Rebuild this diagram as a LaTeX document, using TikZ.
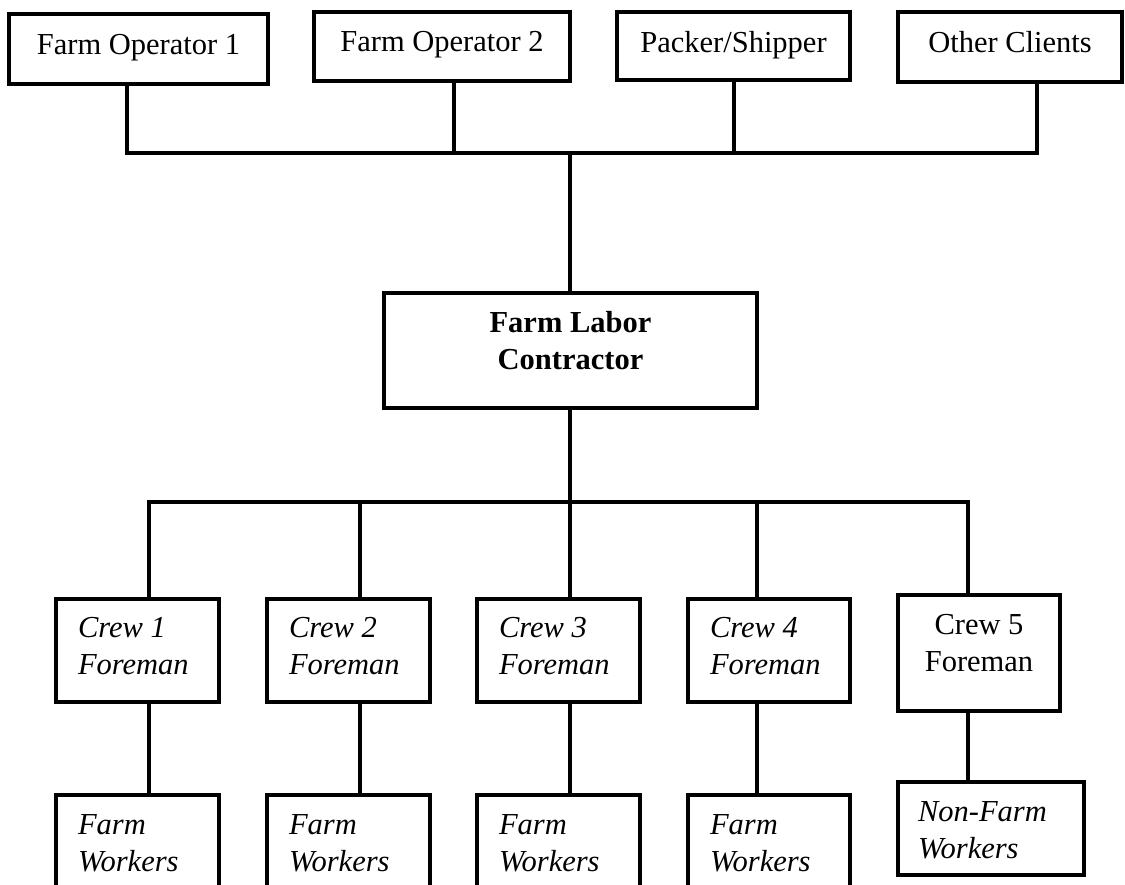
\documentclass[tikz,border=0pt]{standalone}
\usepackage{fontspec}
\setmainfont{Liberation Serif}
\newcommand{\bxt}[5]{\parbox[c][#2pt][t]{#1pt}{#3\vspace*{#4pt}\strut #5}}
\newcommand{\lft}{\raggedright\leftskip=22pt\relax\itshape}
\tikzset{
  box/.style={draw, line width=4.5pt, rectangle, inner sep=0pt, outer sep=0pt, anchor=north west},
  conn/.style={line width=3.8pt},
  every node/.style={font=\fontsize{30.5}{37}\selectfont}
}
\begin{document}
\begin{tikzpicture}[x=1pt,y=-1pt]
\useasboundingbox (0,0) rectangle (1125,885);
\clip (0,0) rectangle (1125,885);
% top row
\node[box] (fo1) at (9,14)   {\bxt{259}{70}{\centering}{15}{Farm Operator 1}};
\node[box] (fo2) at (314,12) {\bxt{256}{69}{\centering}{14}{Farm Operator 2}};
\node[box] (ps)  at (617,12) {\bxt{233}{68}{\centering}{15}{Packer/Shipper}};
\node[box] (oc)  at (898,12) {\bxt{224}{70}{\centering}{15}{Other Clients}};
% contractor
\node[box] (flc) at (384,293) {\bxt{373}{115}{\centering\bfseries}{14}{Farm Labor\\Contractor}};
% crews
\node[box] (c1) at (56,599)  {\bxt{163}{103}{\lft}{13}{Crew 1\\Foreman}};
\node[box] (c2) at (267,599) {\bxt{163}{103}{\lft}{13}{Crew 2\\Foreman}};
\node[box] (c3) at (477,599) {\bxt{163}{103}{\lft}{13}{Crew 3\\Foreman}};
\node[box] (c4) at (688,599) {\bxt{162}{103}{\lft}{13}{Crew 4\\Foreman}};
\node[box] (c5) at (898,595) {\bxt{162}{116}{\centering}{14}{Crew 5\\Foreman}};
% workers
\node[box] (w1) at (56,795)  {\bxt{163}{120}{\lft}{14}{Farm\\Workers}};
\node[box] (w2) at (267,795) {\bxt{163}{120}{\lft}{14}{Farm\\Workers}};
\node[box] (w3) at (477,795) {\bxt{163}{120}{\lft}{14}{Farm\\Workers}};
\node[box] (w4) at (688,795) {\bxt{162}{120}{\lft}{14}{Farm\\Workers}};
\node[box] (nf) at (898,782) {\bxt{186}{93}{\raggedright\leftskip=20pt\relax\itshape}{14}{Non-Farm\\Workers}};
% junction coordinates
\coordinate (t1) at (127,153);
\coordinate (t2) at (454,153);
\coordinate (t3) at (570,153);
\coordinate (t4) at (734,153);
\coordinate (t5) at (1037,153);
\coordinate (m1) at (149,502);
\coordinate (m2) at (360,502);
\coordinate (m3) at (570,502);
\coordinate (m4) at (757,502);
\coordinate (m5) at (968,502);
% upper connectors
\draw[conn] (fo1.south -| t1) -- (t1) -- (t5) -- (oc.south -| t5);
\draw[conn] (fo2.south -| t2) -- (t2);
\draw[conn] (ps.south -| t4) -- (t4);
\draw[conn] (t3) -- (flc.north -| t3);
% lower connectors
\draw[conn] (flc.south -| m3) -- (m3);
\draw[conn] (c1.north -| m1) -- (m1) -- (m5) -- (c5.north -| m5);
\draw[conn] (m2) -- (c2.north -| m2);
\draw[conn] (m3) -- (c3.north -| m3);
\draw[conn] (m4) -- (c4.north -| m4);
\draw[conn] (c1.south -| m1) -- (w1.north -| m1);
\draw[conn] (c2.south -| m2) -- (w2.north -| m2);
\draw[conn] (c3.south -| m3) -- (w3.north -| m3);
\draw[conn] (c4.south -| m4) -- (w4.north -| m4);
\draw[conn] (c5.south -| m5) -- (nf.north -| m5);
\end{tikzpicture}
\end{document}
